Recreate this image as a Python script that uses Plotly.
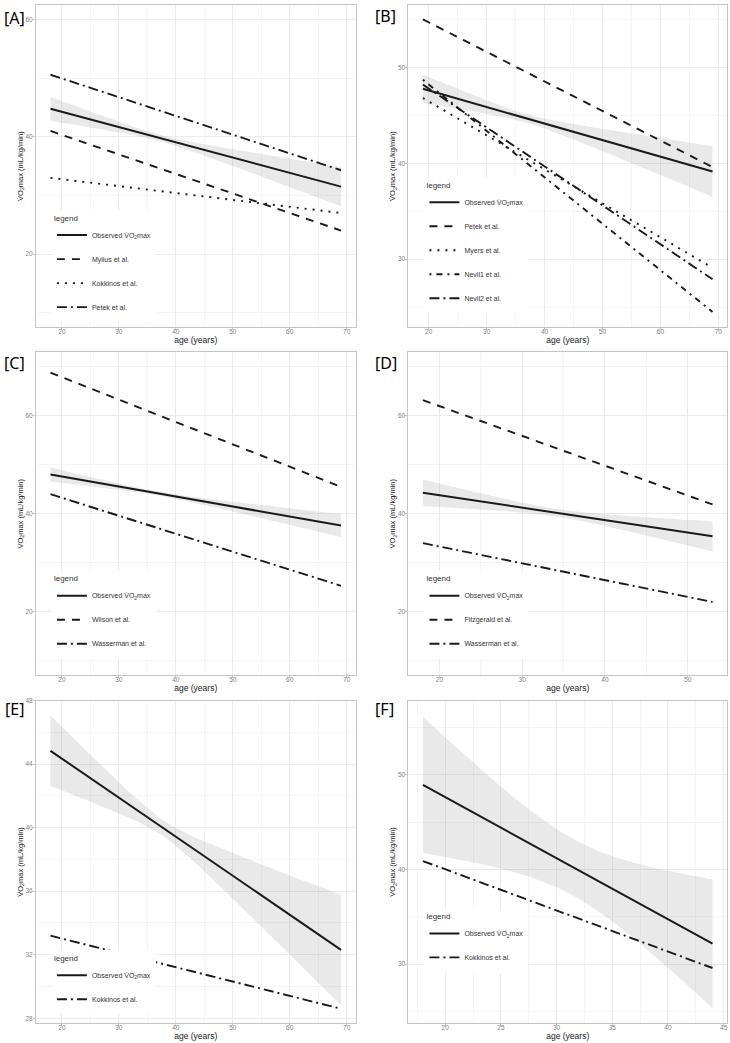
import plotly.graph_objects as go

W, H = 730, 1043

# ---------------- data ----------------
# Panel A
a_age = [18, 69]
a_obs = [44.8, 31.5]
a_mylius = [41.0, 24.0]
a_kokkinos = [33.0, 27.0]
a_petek = [50.6, 34.3]
a_band_age = [18, 23, 28, 33, 38, 43, 48, 53, 58, 63, 69]
a_band_hi = [46.85, 45.06, 43.28, 41.58, 40.14, 39.10, 38.23, 37.40, 36.60, 35.79, 34.85]
a_band_lo = [42.75, 41.94, 41.10, 40.20, 39.02, 37.46, 35.73, 33.94, 32.14, 30.33, 28.15]

# Panel B
b_age = [19, 69]
b_obs = [47.76, 39.14]
b_petek = [55.0, 39.6]
b_myers = [46.8, 29.1]
b_nevil1 = [48.7, 24.5]
b_nevil2 = [48.2, 27.9]
b_band_age = [19, 24, 29, 33, 37, 41, 45, 51, 57, 63, 69]
b_band_hi = [49.26, 48.02, 46.81, 45.89, 45.11, 44.54, 44.09, 43.49, 42.91, 42.35, 41.79]
b_band_lo = [46.26, 45.78, 45.27, 44.81, 44.21, 43.40, 42.47, 41.01, 39.51, 38.01, 36.49]

# Panel C
c_age = [18, 69]
c_obs = [48.0, 37.6]
c_wilson = [68.8, 45.5]
c_wasserman = [44.0, 25.3]
c_band_age = [18, 23, 28, 33, 37, 42, 47, 52, 58, 63, 69]
c_band_hi = [49.45, 48.08, 46.74, 45.44, 44.53, 43.64, 42.91, 42.22, 41.40, 40.73, 39.95]
c_band_lo = [46.55, 45.88, 45.18, 44.44, 43.73, 42.58, 41.27, 39.92, 38.28, 36.91, 35.25]

# Panel D
d_age = [18, 53]
d_obs = [44.3, 35.4]
d_fitzgerald = [63.2, 41.9]
d_wasserman = [34.0, 22.0]
d_band_age = [18, 22, 26, 30, 34, 38, 42, 46, 50, 53]
d_band_hi = [47.0, 45.38, 43.81, 42.30, 41.03, 40.21, 39.66, 39.20, 38.77, 38.45]
d_band_lo = [41.6, 41.18, 40.73, 40.20, 39.43, 38.23, 36.74, 35.16, 33.55, 32.35]

# Panel E
e_age = [18, 69]
e_obs = [44.84, 32.31]
e_kokkinos = [33.2, 28.6]
e_band_age = [18, 23, 28, 33, 38, 43, 48, 53, 58, 63, 69]
e_band_hi = [47.06, 45.30, 43.56, 41.87, 40.42, 39.46, 38.70, 37.98, 37.28, 36.59, 35.78]
e_band_lo = [42.62, 41.92, 41.20, 40.43, 39.42, 37.92, 36.22, 34.48, 32.72, 30.95, 28.84]

# Panel F
f_age = [18, 44]
f_obs = [48.95, 32.17]
f_kokkinos = [40.9, 29.6]
f_band_age = [18, 20, 22, 24, 26, 28, 30, 32, 34, 36, 38, 40, 42, 44]
f_band_hi = [56.15, 53.99, 51.86, 49.79, 47.80, 45.94, 44.28, 42.92, 41.86, 41.05, 40.41, 39.87, 39.40, 38.97]
f_band_lo = [41.75, 41.33, 40.88, 40.37, 39.78, 39.06, 38.12, 36.90, 35.38, 33.61, 31.67, 29.63, 27.52, 25.37]

panel_labels = ["[A]", "[B]", "[C]", "[D]", "[E]", "[F]"]
obs_name = "Observed V\u0307O<sub>2</sub>max"
y_title = "V\u0307O<sub>2</sub>max (mL/kg/min)"
x_title = "age (years)"

# ---------------- styles ----------------
LINE_COL = "#1a1a1a"
DASH = {
    "solid": "solid",
    "dashed": "8px,7px",
    "dotted": "2px,6px",
    "longdashdot": "10px,4px,2px,4px",
    "dotdash": "2px,5px,6px,5px",
}
RIBBON = "rgba(153,153,153,0.22)"
FONT = "Liberation Sans"

# ---------------- panels ----------------
panels = [
    dict(age=a_age, band=(a_band_age, a_band_hi, a_band_lo),
         series=[(obs_name, a_obs, "solid"), ("Mylius et al.", a_mylius, "dashed"),
                 ("Kokkinos et al.", a_kokkinos, "dotted"), ("Petek et al.", a_petek, "longdashdot")],
         xr=[15.45, 71.55], yr=[7.5, 62.5], xd=10, xm=5, yd=20, ym=10),
    dict(age=b_age, band=(b_band_age, b_band_hi, b_band_lo),
         series=[(obs_name, b_obs, "solid"), ("Petek et al.", b_petek, "dashed"),
                 ("Myers et al.", b_myers, "dotted"), ("Nevil1 et al.", b_nevil1, "dotdash"),
                 ("Nevil2 et al.", b_nevil2, "longdashdot")],
         xr=[16.5, 71.5], yr=[22.9, 56.5], xd=10, xm=5, yd=10, ym=5),
    dict(age=c_age, band=(c_band_age, c_band_hi, c_band_lo),
         series=[(obs_name, c_obs, "solid"), ("Wilson et al.", c_wilson, "dashed"),
                 ("Wasserman et al.", c_wasserman, "longdashdot")],
         xr=[15.45, 71.55], yr=[7.0, 73.0], xd=10, xm=5, yd=20, ym=10),
    dict(age=d_age, band=(d_band_age, d_band_hi, d_band_lo),
         series=[(obs_name, d_obs, "solid"), ("Fitzgerald et al.", d_fitzgerald, "dashed"),
                 ("Wasserman et al.", d_wasserman, "longdashdot")],
         xr=[16.25, 54.75], yr=[7.0, 73.0], xd=10, xm=5, yd=20, ym=10),
    dict(age=e_age, band=(e_band_age, e_band_hi, e_band_lo),
         series=[(obs_name, e_obs, "solid"), ("Kokkinos et al.", e_kokkinos, "longdashdot")],
         xr=[15.45, 71.55], yr=[27.68, 48.0], xd=10, xm=5, yd=4, ym=2),
    dict(age=f_age, band=(f_band_age, f_band_hi, f_band_lo),
         series=[(obs_name, f_obs, "solid"), ("Kokkinos et al.", f_kokkinos, "longdashdot")],
         xr=[16.7, 45.3], yr=[23.75, 57.85], xd=5, xm=2.5, yd=10, ym=5),
]

# pixel boxes of plotting areas: (left, right, top, bottom)
col_x = [(36, 356), (409, 728)]
row_y = [(1, 324.5), (349.5, 674), (699.3, 1023.3)]
# legend top-left (px)
legend_pos = [(52, 207), (425, 174), (52, 569), (425, 569), (52, 950), (425, 908)]
label_pos = [(2, 14), (374, 12), (2, 360), (374, 360), (3, 708), (374, 708)]

fig = go.Figure()
layout = dict()

for i, p in enumerate(panels):
    n = i + 1
    sfx = "" if n == 1 else str(n)
    xa, ya = "x" + sfx, "y" + sfx
    leg = "legend" + sfx
    col, row = i % 2, i // 2
    l, r = col_x[col]
    t, b = row_y[row]

    bx, bhi, blo = p["band"]
    # confidence ribbon: lower edge, then upper edge filled down to it
    fig.add_trace(go.Scatter(
        x=bx, y=blo, mode="lines", line=dict(width=0, shape="spline", smoothing=0.8),
        showlegend=False, hoverinfo="skip", xaxis=xa, yaxis=ya))
    fig.add_trace(go.Scatter(
        x=bx, y=bhi, mode="lines", line=dict(width=0, shape="spline", smoothing=0.8),
        fill="tonexty", fillcolor=RIBBON,
        showlegend=False, hoverinfo="skip", xaxis=xa, yaxis=ya))
    for k, (name, vals, style) in enumerate(p["series"]):
        fig.add_trace(go.Scatter(
            x=p["age"], y=vals, mode="lines", name=name,
            line=dict(color=LINE_COL, width=2.0 if style == "solid" else 1.9, dash=DASH[style]),
            xaxis=xa, yaxis=ya, legend=leg, legendgroup=f"{n}-{k}"))

    common = dict(showline=True, linecolor="#c4c4c4", linewidth=1, mirror=True,
                  showgrid=True, gridcolor="#ebebeb", gridwidth=1, zeroline=False,
                  ticks="outside", ticklen=2, tickcolor="#c4c4c4",
                  tickfont=dict(size=6.5, color="#7f7f7f", family=FONT))
    layout["xaxis" + sfx] = dict(
        common, domain=[l / W, r / W], range=p["xr"], dtick=p["xd"], tick0=0,
        anchor=ya, ticklabelstandoff=-4,
        minor=dict(showgrid=True, gridcolor="#f4f4f4", gridwidth=0.6, dtick=p["xm"], tick0=0),
        title=dict(text=x_title, standoff=2, font=dict(size=8.5, color="#1a1a1a", family=FONT)))
    layout["yaxis" + sfx] = dict(
        common, domain=[1 - b / H, 1 - t / H], range=p["yr"], dtick=p["yd"], tick0=0,
        anchor=xa, ticklabelstandoff=-1,
        minor=dict(showgrid=True, gridcolor="#f4f4f4", gridwidth=0.6, dtick=p["ym"], tick0=0),
        title=dict(text=y_title, standoff=0, font=dict(size=7.5, color="#1a1a1a", family=FONT)))
    lx, ly = legend_pos[i]
    layout[leg] = dict(
        x=lx / W, y=1 - ly / H, xanchor="left", yanchor="top",
        bgcolor="white", borderwidth=0,
        title=dict(text="legend", font=dict(size=8, color="#333333", family=FONT)),
        font=dict(size=7, color="#333333", family=FONT),
        tracegroupgap=5, itemwidth=30)

annotations = []
for i, lab in enumerate(panel_labels):
    px, py = label_pos[i]
    annotations.append(dict(text=lab, x=px / W, y=1 - py / H, xref="paper", yref="paper",
                            xanchor="left", yanchor="middle", showarrow=False,
                            font=dict(size=16, color="black", family="Noto Sans")))

fig.update_layout(**layout)
fig.update_layout(width=W, height=H, margin=dict(l=0, r=0, t=0, b=0),
                  plot_bgcolor="white", paper_bgcolor="white",
                  annotations=annotations, showlegend=True)
fig.write_html("out.html", config={"displayModeBar": False},
               post_script="document.body.style.margin='0';document.body.style.padding='0';")
